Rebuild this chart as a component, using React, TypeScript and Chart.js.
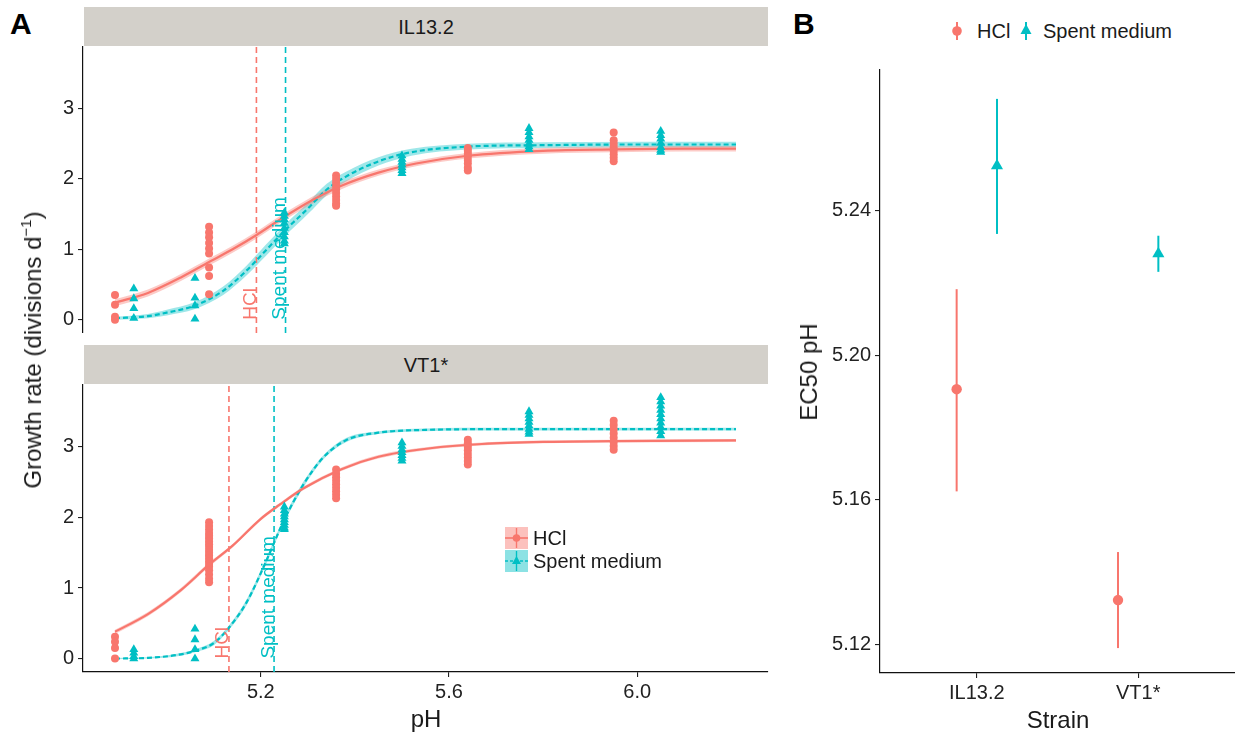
import React, { useEffect, useRef } from 'react';
import { Chart, registerables } from 'chart.js';
Chart.register(...registerables);

// ---------------- data ----------------
const TREATMENTS = ['HCl', 'Spent medium'];
const STRAINS = ['IL13.2', 'VT1*'];

const HCL_PH = [4.89, 5.09, 5.36, 5.64, 5.95];
const SPENT_PH = [4.93, 5.06, 5.25, 5.5, 5.77, 6.05];

// observed growth rates (divisions per day)
const IL_HCL_RATES = [
  [0.35, 0.21, 0.04, 0.0],
  [1.32, 1.24, 1.17, 1.09, 1.01, 0.94, 0.74, 0.62, 0.36],
  [2.05, 2.0, 1.95, 1.9, 1.85, 1.8, 1.75, 1.7, 1.65, 1.62],
  [2.44, 2.4, 2.36, 2.32, 2.27, 2.22, 2.16, 2.12],
  [2.66, 2.55, 2.5, 2.45, 2.4, 2.35, 2.3, 2.25],
];
const IL_SPENT_RATES = [
  [0.44, 0.3, 0.16, 0.02],
  [0.59, 0.31, 0.2, 0.01],
  [1.52, 1.47, 1.42, 1.37, 1.3, 1.24, 1.18, 1.12, 1.08],
  [2.33, 2.28, 2.24, 2.2, 2.16, 2.12, 2.08],
  [2.72, 2.66, 2.6, 2.55, 2.5, 2.46, 2.42],
  [2.68, 2.62, 2.57, 2.51, 2.45, 2.41, 2.38],
];
const VT_HCL_RATES = [
  [0.31, 0.24, 0.15, 0.0],
  [1.93, 1.88, 1.83, 1.78, 1.74, 1.7, 1.66, 1.62, 1.58, 1.54, 1.5, 1.46, 1.42, 1.38, 1.34, 1.3, 1.25, 1.19, 1.13, 1.08],
  [2.68, 2.62, 2.57, 2.52, 2.47, 2.42, 2.37, 2.32, 2.27],
  [3.1, 3.05, 3.0, 2.95, 2.9, 2.85, 2.8, 2.75],
  [3.37, 3.31, 3.25, 3.19, 3.13, 3.07, 3.01, 2.96],
];
const VT_SPENT_RATES = [
  [0.13, 0.08, 0.03, 0.0],
  [0.42, 0.27, 0.13, 0.0],
  [2.15, 2.1, 2.05, 2.01, 1.97, 1.93, 1.89, 1.85, 1.83],
  [3.06, 3.01, 2.96, 2.92, 2.88, 2.84, 2.8],
  [3.5, 3.45, 3.4, 3.35, 3.3, 3.25, 3.21, 3.18],
  [3.7, 3.64, 3.58, 3.52, 3.46, 3.4, 3.34, 3.28, 3.22, 3.16],
];

// fitted dose-response curves and CI half-widths
const IL_HCL_FIT_PH = [4.89, 4.96, 5.03, 5.09, 5.14, 5.19, 5.24, 5.31, 5.37, 5.45, 5.53, 5.64, 5.8, 5.95, 6.1, 6.21];
const IL_HCL_FIT = [0.24, 0.38, 0.6, 0.82, 1.0, 1.2, 1.42, 1.7, 1.9, 2.09, 2.22, 2.33, 2.4, 2.42, 2.43, 2.43];
const IL_HCL_CI = [0.05, 0.05, 0.05, 0.05, 0.05, 0.05, 0.05, 0.05, 0.05, 0.045, 0.04, 0.04, 0.04, 0.04, 0.04, 0.04];

const IL_SPENT_FIT_PH = [4.89, 4.96, 5.0, 5.06, 5.12, 5.17, 5.21, 5.25, 5.3, 5.34, 5.38, 5.45, 5.52, 5.64, 5.8, 6.0, 6.21];
const IL_SPENT_FIT = [0.02, 0.05, 0.1, 0.2, 0.41, 0.7, 0.98, 1.26, 1.58, 1.85, 2.03, 2.25, 2.38, 2.46, 2.48, 2.49, 2.49];
const IL_SPENT_CI = [0.02, 0.03, 0.04, 0.05, 0.06, 0.07, 0.08, 0.08, 0.08, 0.08, 0.07, 0.06, 0.05, 0.04, 0.04, 0.04, 0.04];

const VT_HCL_FIT_PH = [4.89, 4.96, 5.03, 5.09, 5.14, 5.2, 5.24, 5.29, 5.37, 5.45, 5.56, 5.67, 5.8, 5.95, 6.21];
const VT_HCL_FIT = [0.38, 0.63, 0.97, 1.33, 1.6, 1.98, 2.18, 2.41, 2.68, 2.86, 2.98, 3.04, 3.07, 3.08, 3.09];
const VT_HCL_CI = [0.03, 0.03, 0.03, 0.03, 0.025, 0.025, 0.025, 0.025, 0.025, 0.025, 0.02, 0.02, 0.02, 0.02, 0.02];

const VT_SPENT_FIT_PH = [4.89, 4.96, 5.03, 5.06, 5.1, 5.13, 5.17, 5.21, 5.25, 5.29, 5.33, 5.38, 5.45, 5.55, 5.7, 6.0, 6.21];
const VT_SPENT_FIT = [0.0, 0.01, 0.06, 0.11, 0.22, 0.42, 0.8, 1.36, 1.97, 2.46, 2.83, 3.09, 3.2, 3.24, 3.25, 3.25, 3.25];
const VT_SPENT_CI = [0.01, 0.01, 0.02, 0.02, 0.03, 0.03, 0.04, 0.04, 0.04, 0.04, 0.03, 0.03, 0.02, 0.02, 0.02, 0.02, 0.02];

// EC50 estimates (pH), per strain: IL13.2, VT1*
const EC50_HCL = [5.1906, 5.1322];
const EC50_HCL_LO = [5.1623, 5.1189];
const EC50_HCL_HI = [5.2183, 5.1455];
const EC50_SPENT = [5.2525, 5.2281];
const EC50_SPENT_LO = [5.2336, 5.2231];
const EC50_SPENT_HI = [5.271, 5.2331];

const PH_TICKS = [5.2, 5.6, 6.0];
const RATE_TICKS = [0, 1, 2, 3];
const EC50_TICKS = [5.12, 5.16, 5.2, 5.24];

// ---------------- style ----------------
const HCL = '#F8766D';
const SPENT = '#00BFC4';
const HCL_FILL = 'rgba(248,118,109,0.38)';
const SPENT_FILL = 'rgba(0,191,196,0.38)';
const FONT = '"Liberation Sans", Arial, Helvetica, sans-serif';
const TICK_COLOR = '#222222';
const TICK_SIZE = 20;
const STRIP_BG = '#d3d0ca';

const PANELS = [
  { hclPts: IL_HCL_RATES, spPts: IL_SPENT_RATES, hclX: IL_HCL_FIT_PH, hclY: IL_HCL_FIT, hclCi: IL_HCL_CI, spX: IL_SPENT_FIT_PH, spY: IL_SPENT_FIT, spCi: IL_SPENT_CI },
  { hclPts: VT_HCL_RATES, spPts: VT_SPENT_RATES, hclX: VT_HCL_FIT_PH, hclY: VT_HCL_FIT, hclCi: VT_HCL_CI, spX: VT_SPENT_FIT_PH, spY: VT_SPENT_FIT, spCi: VT_SPENT_CI },
];

const Y_MIN = -0.19;
const Y_MAX = 3.89;

const pts = (levels: number[], rates: number[][]) =>
  levels.flatMap((x, i) => rates[i].map((y) => ({ x, y })));
const curve = (xs: number[], ys: number[], hw?: number[], sign = 0) =>
  xs.map((x, i) => ({ x, y: ys[i] + (hw ? sign * hw[i] : 0) }));

const fitY = (w: number) => (s: any) => { s.width = w; s.paddingTop = 0; s.paddingBottom = 0; };
const fitX = (h: number) => (s: any) => { s.height = h; s.paddingLeft = 0; s.paddingRight = 0; };

function labelPlugin(items: { x: number; text: string; color: string }[]) {
  return {
    id: 'ecLabels',
    afterDatasetsDraw(chart: any) {
      const { ctx, scales } = chart;
      items.forEach((it) => {
        const px = scales.x.getPixelForValue(it.x);
        const py = scales.y.getPixelForValue(0);
        ctx.save();
        ctx.translate(px - 0.5, py);
        ctx.rotate(-Math.PI / 2);
        ctx.font = `19px ${FONT}`;
        ctx.fillStyle = it.color;
        ctx.textAlign = 'left';
        ctx.textBaseline = 'alphabetic';
        ctx.fillText(it.text, 0, 0);
        ctx.restore();
      });
    },
  };
}

const axisGrid = { display: true, drawOnChartArea: false, drawTicks: true, tickLength: 5, color: '#222', lineWidth: 1.1 };
const axisBorder = { display: true, color: '#111', width: 1.2 };

function panelConfig(k: number, showX: boolean): any {
  const p = PANELS[k];
  const datasets: any[] = [
    { data: curve(p.hclX, p.hclY, p.hclCi, -1), borderWidth: 0, pointRadius: 0, cubicInterpolationMode: 'monotone', fill: false, order: 5 },
    { data: curve(p.hclX, p.hclY, p.hclCi, 1), borderWidth: 0, pointRadius: 0, cubicInterpolationMode: 'monotone', fill: { target: 0 }, backgroundColor: HCL_FILL, order: 5 },
    { data: curve(p.spX, p.spY, p.spCi, -1), borderWidth: 0, pointRadius: 0, cubicInterpolationMode: 'monotone', fill: false, order: 5 },
    { data: curve(p.spX, p.spY, p.spCi, 1), borderWidth: 0, pointRadius: 0, cubicInterpolationMode: 'monotone', fill: { target: 2 }, backgroundColor: SPENT_FILL, order: 5 },
    { data: [{ x: EC50_HCL[k], y: Y_MIN }, { x: EC50_HCL[k], y: Y_MAX }], borderColor: HCL, borderWidth: 1.6, borderDash: [6, 4], pointRadius: 0, order: 4 },
    { data: [{ x: EC50_SPENT[k], y: Y_MIN }, { x: EC50_SPENT[k], y: Y_MAX }], borderColor: SPENT, borderWidth: 1.6, borderDash: [6, 4], pointRadius: 0, order: 4 },
    { data: curve(p.hclX, p.hclY), borderColor: HCL, borderWidth: 2.2, pointRadius: 0, cubicInterpolationMode: 'monotone', order: 2 },
    { data: curve(p.spX, p.spY), borderColor: SPENT, borderWidth: 2.2, borderDash: [5, 3], pointRadius: 0, cubicInterpolationMode: 'monotone', order: 2 },
    { data: pts(HCL_PH, p.hclPts), showLine: false, pointStyle: 'circle', pointRadius: 4, pointBorderWidth: 0, pointBackgroundColor: HCL, order: 0 },
    { data: pts(SPENT_PH, p.spPts), showLine: false, pointStyle: 'triangle', pointRadius: 5.2, pointBorderWidth: 0, pointBackgroundColor: SPENT, order: 0 },
  ];
  return {
    type: 'line',
    data: { datasets },
    options: {
      responsive: false,
      animation: false,
      events: [],
      layout: { autoPadding: false, padding: { top: 0, right: 12, bottom: 0, left: 0 } },
      plugins: { legend: { display: false }, tooltip: { enabled: false } },
      scales: {
        x: {
          type: 'linear',
          display: showX,
          min: 4.822,
          max: 6.278,
          afterBuildTicks: (s: any) => { s.ticks = PH_TICKS.map((v) => ({ value: v })); },
          afterFit: fitX(showX ? 62 : 0),
          grid: axisGrid,
          border: axisBorder,
          ticks: { font: { family: FONT, size: TICK_SIZE }, color: TICK_COLOR, padding: 3, maxRotation: 0, callback: (v: number) => v.toFixed(1) },
        },
        y: {
          type: 'linear',
          min: Y_MIN,
          max: Y_MAX,
          afterBuildTicks: (s: any) => { s.ticks = RATE_TICKS.map((v) => ({ value: v })); },
          afterFit: fitY(83),
          grid: axisGrid,
          border: axisBorder,
          ticks: { font: { family: FONT, size: TICK_SIZE }, color: TICK_COLOR, padding: 4, callback: (v: number) => String(v) },
        },
      },
    },
    plugins: [labelPlugin([
      { x: EC50_HCL[k], text: TREATMENTS[0], color: HCL },
      { x: EC50_SPENT[k], text: TREATMENTS[1], color: SPENT },
    ])],
  };
}

function ec50Config(): any {
  const DODGE = 0.125;
  const bar = (x: number, lo: number, hi: number, color: string) => ({
    data: [{ x, y: lo }, { x, y: hi }], borderColor: color, borderWidth: 2, pointRadius: 0, order: 2,
  });
  const datasets: any[] = [];
  STRAINS.forEach((_, i) => {
    datasets.push(bar(i + 1 - DODGE, EC50_HCL_LO[i], EC50_HCL_HI[i], HCL));
    datasets.push(bar(i + 1 + DODGE, EC50_SPENT_LO[i], EC50_SPENT_HI[i], SPENT));
  });
  datasets.push({ data: EC50_HCL.map((y, i) => ({ x: i + 1 - DODGE, y })), showLine: false, pointStyle: 'circle', pointRadius: 5.2, pointBorderWidth: 0, pointBackgroundColor: HCL, order: 0 });
  datasets.push({ data: EC50_SPENT.map((y, i) => ({ x: i + 1 + DODGE, y })), showLine: false, pointStyle: 'triangle', pointRadius: 7, pointBorderWidth: 0, pointBackgroundColor: SPENT, order: 0 });
  return {
    type: 'line',
    data: { datasets },
    options: {
      responsive: false,
      animation: false,
      events: [],
      layout: { autoPadding: false, padding: { top: 10, right: 0, bottom: 0, left: 0 } },
      plugins: { legend: { display: false }, tooltip: { enabled: false } },
      scales: {
        x: {
          type: 'linear',
          min: 0.4,
          max: 2.6,
          afterBuildTicks: (s: any) => { s.ticks = STRAINS.map((_, i) => ({ value: i + 1 })); },
          afterFit: fitX(61),
          grid: axisGrid,
          border: axisBorder,
          ticks: { font: { family: FONT, size: TICK_SIZE }, color: TICK_COLOR, padding: 3, maxRotation: 0, callback: (v: number) => STRAINS[Math.round(v) - 1] },
        },
        y: {
          type: 'linear',
          min: 5.112,
          max: 5.279,
          afterBuildTicks: (s: any) => { s.ticks = EC50_TICKS.map((v) => ({ value: v })); },
          afterFit: fitY(90),
          grid: axisGrid,
          border: axisBorder,
          ticks: { font: { family: FONT, size: TICK_SIZE }, color: TICK_COLOR, padding: 4, callback: (v: number) => v.toFixed(2) },
        },
      },
    },
  };
}

function ChartCanvas({ config, left, top, width, height }: any) {
  const ref = useRef<HTMLCanvasElement | null>(null);
  useEffect(() => {
    if (!ref.current) return;
    const chart = new Chart(ref.current, config());
    return () => chart.destroy();
  }, []);
  return (
    <canvas ref={ref} width={width} height={height}
      style={{ position: 'absolute', left, top, width, height }} />
  );
}

const txt = (extra: any) => ({ position: 'absolute' as const, fontFamily: FONT, color: '#1a1a1a', whiteSpace: 'nowrap' as const, lineHeight: 1, ...extra });

function LegendKey({ color, fill, dashed, tri }: any) {
  return (
    <svg width="23" height="22" style={{ display: 'block' }}>
      <rect x="0" y="0" width="23" height="22" fill={fill} />
      <line x1="0" y1="11" x2="23" y2="11" stroke={color} strokeWidth="1.6" strokeDasharray={dashed ? '3 2' : undefined} />
      <line x1="11.5" y1="1" x2="11.5" y2="21" stroke={color} strokeWidth="1.4" />
      {tri
        ? <polygon points="11.5,6 16,14 7,14" fill={color} />
        : <circle cx="11.5" cy="11" r="3.8" fill={color} />}
    </svg>
  );
}

export default function App() {
  return (
    <div style={{ position: 'absolute', left: 0, top: 0, width: 1235, height: 734, background: '#fff', overflow: 'hidden', fontFamily: FONT }}>
      {/* panel labels */}
      <div style={txt({ left: 10, top: 9, fontSize: 30, fontWeight: 'bold', color: '#000' })}>A</div>
      <div style={txt({ left: 793, top: 9, fontSize: 30, fontWeight: 'bold', color: '#000' })}>B</div>

      {/* strips */}
      <div style={{ position: 'absolute', left: 84, top: 7, width: 684, height: 39, background: STRIP_BG }} />
      <div style={txt({ left: 426, top: 27, fontSize: 20, transform: 'translate(-50%,-50%)' })}>{STRAINS[0]}</div>
      <div style={{ position: 'absolute', left: 84, top: 345, width: 684, height: 39, background: STRIP_BG }} />
      <div style={txt({ left: 426, top: 365, fontSize: 20, transform: 'translate(-50%,-50%)' })}>{STRAINS[1]}</div>

      <ChartCanvas config={() => panelConfig(0, false)} left={0} top={46} width={780} height={287} />
      <ChartCanvas config={() => panelConfig(1, true)} left={0} top={384} width={780} height={350} />
      <ChartCanvas config={() => ec50Config()} left={790} top={60} width={445} height={674} />

      {/* axis titles panel A */}
      <div style={txt({ left: 33, top: 350, fontSize: 24, transform: 'translate(-50%,-50%) rotate(-90deg)' })}>
        Growth rate (divisions d<sup style={{ fontSize: 15, verticalAlign: 'top', position: 'relative', top: -3 }}>−1</sup>)
      </div>
      <div style={txt({ left: 426, top: 719, fontSize: 24, transform: 'translate(-50%,-50%)' })}>pH</div>

      {/* legend panel A */}
      <div style={{ position: 'absolute', left: 505, top: 527 }}>
        <LegendKey color={HCL} fill="rgba(248,118,109,0.45)" />
      </div>
      <div style={{ position: 'absolute', left: 505, top: 550 }}>
        <LegendKey color={SPENT} fill="rgba(0,191,196,0.45)" dashed tri />
      </div>
      <div style={txt({ left: 533, top: 538, fontSize: 20, transform: 'translateY(-50%)' })}>{TREATMENTS[0]}</div>
      <div style={txt({ left: 533, top: 561, fontSize: 20, transform: 'translateY(-50%)' })}>{TREATMENTS[1]}</div>

      {/* axis titles panel B */}
      <div style={txt({ left: 809, top: 372, fontSize: 24, transform: 'translate(-50%,-50%) rotate(-90deg)' })}>EC50 pH</div>
      <div style={txt({ left: 1058, top: 720, fontSize: 24, transform: 'translate(-50%,-50%)' })}>Strain</div>

      {/* legend panel B */}
      <svg style={{ position: 'absolute', left: 950, top: 20 }} width="14" height="22">
        <line x1="7" y1="2" x2="7" y2="20" stroke={HCL} strokeWidth="2" />
        <circle cx="7" cy="11" r="4.8" fill={HCL} />
      </svg>
      <div style={txt({ left: 977, top: 31, fontSize: 20, transform: 'translateY(-50%)' })}>{TREATMENTS[0]}</div>
      <svg style={{ position: 'absolute', left: 1018, top: 20 }} width="16" height="22">
        <line x1="8" y1="2" x2="8" y2="20" stroke={SPENT} strokeWidth="2" />
        <polygon points="8,4 13.5,14 2.5,14" fill={SPENT} />
      </svg>
      <div style={txt({ left: 1043, top: 31, fontSize: 20, transform: 'translateY(-50%)' })}>{TREATMENTS[1]}</div>
    </div>
  );
}
